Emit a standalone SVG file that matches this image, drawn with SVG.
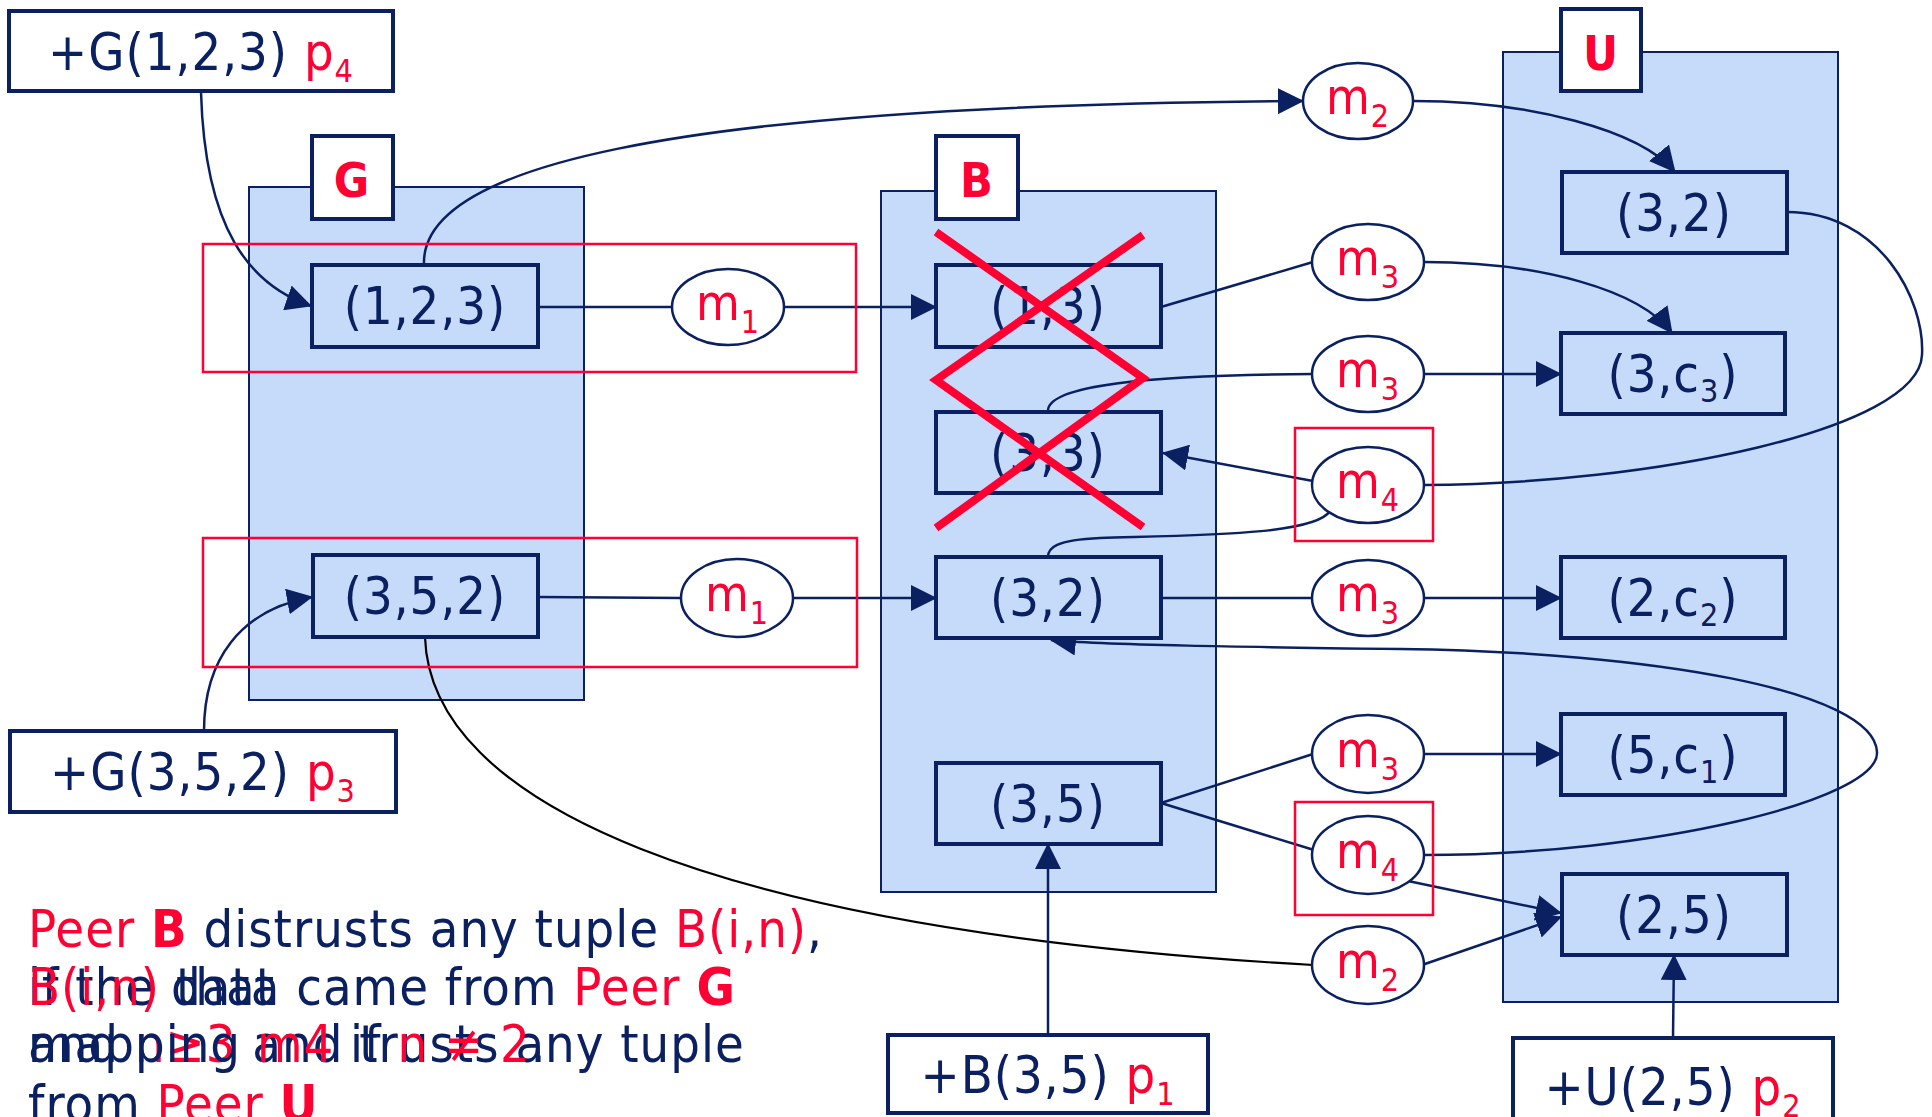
<svg xmlns="http://www.w3.org/2000/svg" width="1932" height="1117" viewBox="0 0 1932 1117">
  <defs>
    <marker id="ah" markerWidth="26" markerHeight="26" refX="25" refY="13" orient="auto" markerUnits="userSpaceOnUse">
      <path d="M0,0 L26,13 L0,26 z" fill="#0a2060"/>
    </marker>
    <style>
      text { font-family: "DejaVu Sans", "Liberation Sans", sans-serif; font-stretch: condensed; letter-spacing: 1px; }
      .cont { fill: #c6daf9; stroke: #0a2060; stroke-width: 2; }
      .box { fill: #c6daf9; stroke: #0a2060; stroke-width: 4; }
      .tag { fill: #ffffff; stroke: #0a2060; stroke-width: 4; }
      .ell { fill: #ffffff; stroke: #0a2060; stroke-width: 2.5; }
      .redbox { fill: none; stroke: #ff0033; stroke-width: 2.5; }
      .cross { fill: none; stroke: #ff0033; stroke-width: 8; stroke-linejoin: miter; }
      .edge { fill: none; stroke: #0a2060; stroke-width: 2.5; }
      .edge.arr { marker-end: url(#ah); }
      .blk { fill: none; stroke: #000000; stroke-width: 2.2; }
      .lbl { font-size: 52px; fill: #0a2060; text-anchor: middle; }
      .peer { font-size: 48px; font-weight: bold; fill: #ff0033; text-anchor: middle; }
      .m { font-size: 50px; fill: #ff0033; text-anchor: middle; }
      .sub { font-size: 32px; }
      .red { fill: #ff0033; }
      .nv { fill: #0a2060; }
      .note { font-size: 52px; fill: #0a2060; }
      .b { font-weight: bold; }
    </style>
  </defs>

  <!-- peer containers -->
  <g id="peer-G">
    <rect class="cont" x="249" y="187" width="335" height="513"/>
    <rect class="tag" x="312" y="136" width="81" height="83"/>
    <text class="peer" x="352" y="197">G</text>
  </g>
  <g id="peer-B">
    <rect class="cont" x="881" y="191" width="335" height="701"/>
    <rect class="tag" x="936" y="136" width="82" height="83"/>
    <text class="peer" x="977" y="197">B</text>
  </g>
  <g id="peer-U">
    <rect class="cont" x="1503" y="52" width="335" height="950"/>
    <rect class="tag" x="1561" y="9" width="80" height="82"/>
    <text class="peer" x="1601" y="70">U</text>
  </g>

  <!-- connectors -->
  <g id="connectors">
    <path class="edge arr" d="M201,92 C205,230 250,285 311,306"/>
    <path class="edge" d="M538,307 L672,307"/>
    <path class="edge arr" d="M784,307 L936,307"/>
    <path class="edge arr" d="M424,265 C420,170 650,105 1303,101"/>
    <path class="edge arr" d="M1413,101 C1530,101 1640,130 1675,172"/>
    <path class="edge" d="M1161,307 L1313,262"/>
    <path class="edge arr" d="M1424,262 C1540,262 1640,290 1672,333"/>
    <path class="edge" d="M1048,412 C1045,385 1150,375 1313,374"/>
    <path class="edge arr" d="M1424,374 L1561,374"/>
    <path class="edge" d="M1787,212 C1880,212 1925,300 1922,355 C1919,430 1650,484 1424,485"/>
    <path class="edge arr" d="M1313,481 L1163,453"/>
    <path class="edge" d="M1330,511 C1315,535 1200,535 1100,538 C1055,540 1048,548 1048,557"/>
    <path class="edge" d="M538,597 L681,598"/>
    <path class="edge arr" d="M793,598 L936,598"/>
    <path class="edge" d="M1161,598 L1313,598"/>
    <path class="edge arr" d="M1424,598 L1561,598"/>
    <path class="edge arr" d="M1424,855 C1650,855 1880,800 1877,752 C1874,690 1650,652 1400,649 C1250,647 1100,645 1051,640"/>
    <path class="edge" d="M1161,803 L1313,754"/>
    <path class="edge arr" d="M1424,754 L1561,754"/>
    <path class="edge" d="M1161,803 L1314,850"/>
    <path class="edge arr" d="M1408,881 L1561,913"/>
    <path class="edge arr" d="M1422,965 L1561,917"/>
    <path class="blk" d="M425,637 C430,800 700,930 1313,965"/>
    <path class="edge arr" d="M204,731 C204,660 240,610 312,597"/>
    <path class="edge arr" d="M1048,1035 L1048,844"/>
    <path class="edge arr" d="M1673,1038 L1674,955"/>
  </g>

  <!-- mapping groupings -->
  <rect class="redbox" x="203" y="244" width="653" height="128"/>
  <rect class="redbox" x="203" y="538" width="654" height="129"/>
  <rect class="redbox" x="1295" y="428" width="138" height="113"/>
  <rect class="redbox" x="1295" y="802" width="138" height="113"/>

  <!-- insertion tags -->
  <g id="ins-G123">
    <rect class="tag" x="9" y="11" width="384" height="80"/>
    <text class="lbl" x="201" y="70">+G(1,2,3) <tspan class="red">p<tspan class="sub" dy="12">4</tspan></tspan></text>
  </g>
  <g id="ins-G352">
    <rect class="tag" x="10" y="731" width="386" height="81"/>
    <text class="lbl" x="203" y="790">+G(3,5,2) <tspan class="red">p<tspan class="sub" dy="12">3</tspan></tspan></text>
  </g>
  <g id="ins-B35">
    <rect class="tag" x="888" y="1035" width="320" height="78"/>
    <text class="lbl" x="1048" y="1093">+B(3,5) <tspan class="red">p<tspan class="sub" dy="12">1</tspan></tspan></text>
  </g>
  <g id="ins-U25">
    <rect class="tag" x="1513" y="1038" width="320" height="90"/>
    <text class="lbl" x="1673" y="1105">+U(2,5) <tspan class="red">p<tspan class="sub" dy="12">2</tspan></tspan></text>
  </g>

  <!-- tuples -->
  <g id="t-G123"><rect class="box" x="312" y="265" width="226" height="82"/><text class="lbl" x="425" y="324">(1,2,3)</text></g>
  <g id="t-G352"><rect class="box" x="313" y="555" width="225" height="82"/><text class="lbl" x="425" y="614">(3,5,2)</text></g>
  <g id="t-B13"><rect class="box" x="936" y="265" width="225" height="82"/><text class="lbl" x="1048" y="324">(1,3)</text></g>
  <g id="t-B33"><rect class="box" x="936" y="412" width="225" height="81"/><text class="lbl" x="1048" y="471">(3,3)</text></g>
  <g id="t-B32"><rect class="box" x="936" y="557" width="225" height="81"/><text class="lbl" x="1048" y="616">(3,2)</text></g>
  <g id="t-B35"><rect class="box" x="936" y="763" width="225" height="81"/><text class="lbl" x="1048" y="822">(3,5)</text></g>
  <g id="t-U32"><rect class="box" x="1562" y="172" width="225" height="81"/><text class="lbl" x="1674" y="231">(3,2)</text></g>
  <g id="t-U3c3"><rect class="box" x="1561" y="333" width="224" height="81"/><text class="lbl" x="1673" y="392">(3,c<tspan class="sub" dy="10">3</tspan><tspan dy="-10">)</tspan></text></g>
  <g id="t-U2c2"><rect class="box" x="1561" y="557" width="224" height="81"/><text class="lbl" x="1673" y="616">(2,c<tspan class="sub" dy="10">2</tspan><tspan dy="-10">)</tspan></text></g>
  <g id="t-U5c1"><rect class="box" x="1561" y="714" width="224" height="81"/><text class="lbl" x="1673" y="773">(5,c<tspan class="sub" dy="10">1</tspan><tspan dy="-10">)</tspan></text></g>
  <g id="t-U25"><rect class="box" x="1562" y="874" width="225" height="81"/><text class="lbl" x="1674" y="933">(2,5)</text></g>

  <!-- deleted tuples -->
  <polyline class="cross" points="1143,235 936,380 1143,527"/>
  <polyline class="cross" points="936,232 1143,378 936,528"/>

  <!-- mappings -->
  <g id="m1-a"><ellipse class="ell" cx="728" cy="307" rx="56" ry="38"/><text class="m" x="728" y="320">m<tspan class="sub" dy="13">1</tspan></text></g>
  <g id="m1-b"><ellipse class="ell" cx="737" cy="598" rx="56" ry="39"/><text class="m" x="737" y="611">m<tspan class="sub" dy="13">1</tspan></text></g>
  <g id="m2-a"><ellipse class="ell" cx="1358" cy="101" rx="55" ry="38"/><text class="m" x="1358" y="114">m<tspan class="sub" dy="13">2</tspan></text></g>
  <g id="m3-a"><ellipse class="ell" cx="1368" cy="262" rx="56" ry="38"/><text class="m" x="1368" y="275">m<tspan class="sub" dy="13">3</tspan></text></g>
  <g id="m3-b"><ellipse class="ell" cx="1368" cy="374" rx="56" ry="38"/><text class="m" x="1368" y="387">m<tspan class="sub" dy="13">3</tspan></text></g>
  <g id="m4-a"><ellipse class="ell" cx="1368" cy="485" rx="56" ry="38"/><text class="m" x="1368" y="498">m<tspan class="sub" dy="13">4</tspan></text></g>
  <g id="m3-c"><ellipse class="ell" cx="1368" cy="598" rx="56" ry="38"/><text class="m" x="1368" y="611">m<tspan class="sub" dy="13">3</tspan></text></g>
  <g id="m3-d"><ellipse class="ell" cx="1368" cy="754" rx="56" ry="39"/><text class="m" x="1368" y="767">m<tspan class="sub" dy="13">3</tspan></text></g>
  <g id="m4-b"><ellipse class="ell" cx="1368" cy="855" rx="56" ry="39"/><text class="m" x="1368" y="868">m<tspan class="sub" dy="13">4</tspan></text></g>
  <g id="m2-b"><ellipse class="ell" cx="1368" cy="965" rx="56" ry="39"/><text class="m" x="1368" y="978">m<tspan class="sub" dy="13">2</tspan></text></g>

  <!-- trust policy notes (two overlapping text boxes) -->
  <g id="note">
    <text class="note" x="28" y="947"><tspan class="red">Peer </tspan><tspan class="red b">B</tspan> distrusts any tuple <tspan class="red">B(i,n)</tspan>,</text>
    <text class="note" x="28" y="1005">if the data came from <tspan class="red">Peer </tspan><tspan class="red b">G</tspan></text>
    <text class="note" x="28" y="1005"><tspan class="red">B(i,n)</tspan> that</text>
    <text class="note" x="28" y="1062">and <tspan class="red">n≥3</tspan> and trusts any tuple</text>
    <text class="note" x="28" y="1062">mapping <tspan class="red">m4</tspan> if <tspan class="red">n ≠ 2</tspan>.</text>
    <text class="note" x="28" y="1122">from <tspan class="red">Peer </tspan><tspan class="red b">U</tspan></text>
  </g>
</svg>
